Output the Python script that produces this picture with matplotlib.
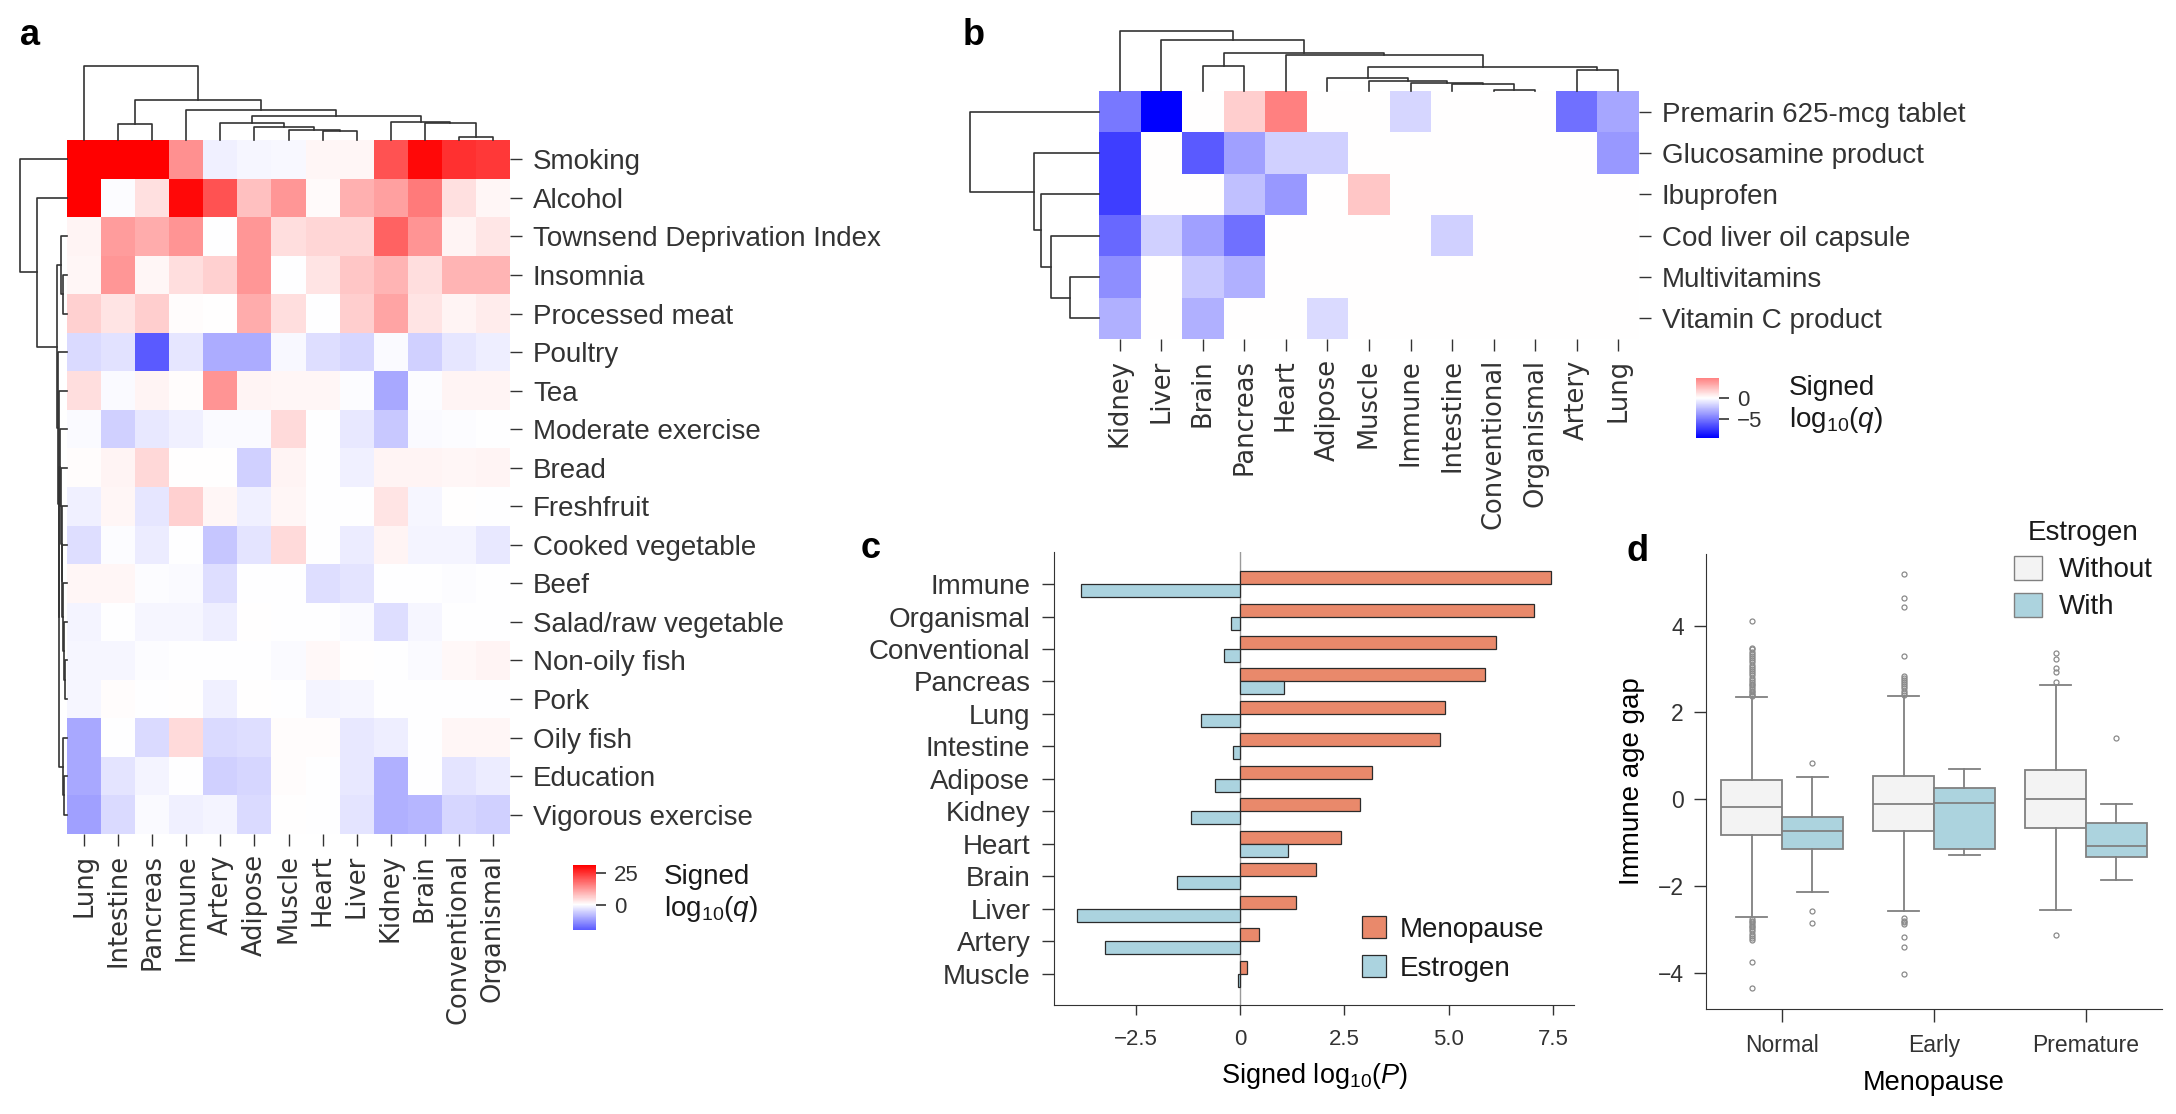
import matplotlib
matplotlib.use("Agg")
import matplotlib.pyplot as plt
import numpy as np
import seaborn as sns
from matplotlib.patches import Patch

W, H = 2176, 1114

# ---------------- panel a: lifestyle factors x organ clocks
a_cols = ["Lung", "Intestine", "Pancreas", "Immune", "Artery", "Adipose", "Muscle",
          "Heart", "Liver", "Kidney", "Brain", "Conventional", "Organismal"]
a_rows = ["Smoking", "Alcohol", "Townsend Deprivation Index", "Insomnia", "Processed meat",
          "Poultry", "Tea", "Moderate exercise", "Bread", "Freshfruit", "Cooked vegetable",
          "Beef", "Salad/raw vegetable", "Non-oily fish", "Pork", "Oily fish", "Education",
          "Vigorous exercise"]
a_vals = [
    [31, 31, 31, 13.4, -1.8, -1, -0.7, 1.2, 1.0, 21, 30, 25, 24],
    [31, -0.3, 3.9, 30, 21, 7.5, 12.5, 0.6, 9.5, 11.5, 16, 3.9, 1.0],
    [1.5, 12, 10, 13, 0, 12.5, 4, 5, 5, 19, 13, 1.5, 3],
    [1, 12.5, 1, 4, 5.7, 12.5, 0, 3.2, 7, 9, 4, 9, 9],
    [5.7, 3.2, 6, 0.5, 0.2, 10, 4, 0, 6, 11, 3.2, 1.5, 2.5],
    [-4.5, -3.5, -20, -3, -10, -10, -0.7, -4, -5, -0.5, -5.5, -3, -2],
    [4, -0.5, 1.5, 0.5, 13, 1.5, 1, 1.2, -0.3, -10.5, -0.3, 1.5, 1.5],
    [-0.5, -5.5, -2.8, -1.8, -0.5, -0.5, 4.5, -0.1, -2.8, -6.5, -0.5, -0.3, 0],
    [0.5, 1.5, 4.8, 0.3, 0.3, -5.5, 1.5, 0, -1.8, 1.5, 1.5, 1.2, 1.5],
    [-1.8, 1.2, -3, 5.7, 1.2, -1.8, 1.2, -0.1, -0.1, 3.2, -1, 0.3, -0.2],
    [-3.9, -0.3, -2.3, 0, -7, -3.2, 4.5, 0, -2.3, 1.5, -1.3, -1.3, -2.8],
    [1.2, 1.0, -0.3, -0.5, -3.9, 0, -0.1, -3.9, -3.2, 0, 0, -0.3, 0],
    [-1.3, -0.1, -1.0, -1.0, -2, 0.3, 0, 0, -0.5, -3.9, -1, 0, 0],
    [-1, -1, -0.3, 0, 0, 0, -0.5, 0.8, 0.3, 0, -0.5, 0.8, 1.5],
    [-1, 0.5, 0, 0.2, -1.8, 0.2, 0, -1.3, -1, 0, 0, 0, 0],
    [-10.5, -0.1, -4.3, 4.5, -4.5, -3.9, 0.5, 0.5, -2.8, -2, 0, 1.2, 1.2],
    [-10.5, -3.2, -1.3, 0, -5.5, -5, 0.5, 0, -2.8, -9.6, 0, -3.2, -2.3],
    [-11.6, -4.3, -0.5, -1.8, -1.3, -4.3, 0.2, 0.1, -3.2, -9.6, -8.7, -5, -5.8],
]
# dendrogram merges (left id, right id, height); new ids follow the leaves
a_col_links = [(1, 2, 47), (7, 8, 27), (6, 14, 30), (5, 15, 40), (4, 16, 52),
               (11, 12, 10), (10, 18, 52), (9, 19, 55), (17, 20, 72), (3, 21, 90),
               (13, 22, 120), (0, 23, 223)]
a_row_links = [(3, 4, 12), (2, 18, 17), (16, 17, 8), (15, 20, 12), (13, 14, 6),
               (12, 22, 9), (11, 23, 11), (10, 24, 13), (9, 25, 15), (8, 26, 17),
               (7, 27, 19), (28, 21, 21), (6, 29, 23), (5, 30, 25), (19, 31, 28),
               (1, 32, 83), (0, 33, 130)]

# ---------------- panel b: medications x organ clocks
b_cols = ["Kidney", "Liver", "Brain", "Pancreas", "Heart", "Adipose", "Muscle", "Immune",
          "Intestine", "Conventional", "Organismal", "Artery", "Lung"]
b_rows = ["Premarin 625-mcg tablet", "Glucosamine product", "Ibuprofen",
          "Cod liver oil capsule", "Multivitamins", "Vitamin C product"]
b_vals = [
    [-5.1, -9.7, 0, 1.8, 4.8, 0, 0, -1.6, 0, 0, 0, -5.4, -3.4],
    [-7.3, 0, -6.3, -3.6, -1.8, -1.8, 0, 0, 0, 0, 0, 0, -3.9],
    [-7.3, 0, 0, -2.4, -3.9, 0, 2.1, 0, 0, 0, 0, 0, 0],
    [-5.7, -1.8, -3.6, -5.4, 0, 0, 0, 0, -1.8, 0, 0, 0, 0],
    [-4.3, 0, -2.1, -3.0, 0, 0, 0, 0, 0, 0, 0, 0, 0],
    [-3.0, 0, -3.0, 0, 0, -1.4, 0, 0, 0, 0, 0, 0, 0],
]
b_col_links = [(9, 10, 2), (8, 13, 20), (7, 14, 25), (6, 15, 30), (5, 16, 37),
               (11, 12, 62), (17, 18, 70), (4, 19, 105), (2, 3, 75), (21, 20, 112),
               (1, 22, 150), (0, 23, 177)]
b_row_links = [(4, 5, 59), (3, 6, 99), (2, 7, 120), (1, 8, 134), (0, 9, 267)]

# ---------------- panel c
c_tissues = ["Immune", "Organismal", "Conventional", "Pancreas", "Lung", "Intestine",
             "Adipose", "Kidney", "Heart", "Brain", "Liver", "Artery", "Muscle"]
c_menopause = [7.45, 7.05, 6.13, 5.86, 4.91, 4.78, 3.16, 2.88, 2.41, 1.82, 1.33, 0.46, 0.16]
c_estrogen = [-3.81, -0.22, -0.39, 1.05, -0.93, -0.18, -0.61, -1.18, 1.15, -1.51, -3.90,
              -3.24, -0.06]

# ---------------- panel d
d_groups = ["Normal", "Early", "Premature"]
d_wo_q1 = [-0.82, -0.73, -0.66]
d_wo_med = [-0.19, -0.12, 0.0]
d_wo_q3 = [0.44, 0.53, 0.66]
d_wo_lo = [-2.73, -2.58, -2.55]
d_wo_hi = [2.35, 2.37, 2.64]
d_wo_out = [
    [2.37, 2.4, 2.43, 2.46, 2.5, 2.54, 2.58, 2.62, 2.66, 2.7, 2.75, 2.8, 2.85, 2.9, 2.95,
     3.0, 3.05, 3.1, 3.15, 3.2, 3.25, 3.3, 3.35, 3.4, 3.45, 3.48, 4.11,
     -2.76, -2.8, -2.84, -2.88, -2.92, -2.96, -3.0, -3.05, -3.1, -3.15, -3.2, -3.26,
     -3.76, -4.36],
    [2.4, 2.45, 2.5, 2.55, 2.6, 2.65, 2.7, 2.75, 2.8, 2.84, 3.29, 4.42, 4.64, 5.18,
     -2.74, -2.8, -2.84, -2.88, -3.17, -3.41, -4.04],
    [2.71, 2.93, 3.03, 3.22, 3.37, -3.13],
]
d_w_q1 = [-1.14, -1.16, -1.34]
d_w_med = [-0.73, -0.09, -1.09]
d_w_q3 = [-0.41, 0.26, -0.55]
d_w_lo = [-2.14, -1.30, -1.87]
d_w_hi = [0.50, 0.70, -0.12]
d_w_out = [[0.82, -2.58, -2.86], [], [1.40]]

plt.rcParams["font.family"] = ["Liberation Sans", "DejaVu Sans"]
plt.rcParams["mathtext.fontset"] = "custom"
plt.rcParams["mathtext.rm"] = "Liberation Sans"
plt.rcParams["mathtext.it"] = "Liberation Sans:italic"
plt.rcParams["axes.edgecolor"] = "#333333"
plt.rcParams["xtick.color"] = "#333333"
plt.rcParams["ytick.color"] = "#333333"
plt.rcParams["text.color"] = "#1a1a1a"

fig = plt.figure(figsize=(W / 100, H / 100), dpi=100)


def add_ax(x0, y0, x1, y1):
    return fig.add_axes([x0 / W, 1 - y1 / H, (x1 - x0) / W, (y1 - y0) / H])


def draw_tree(ax, links, n, side):
    pos = [i + 0.5 for i in range(n)]
    hgt = [0.0] * n
    for l, r, h in links:
        xs = [pos[l], pos[l], pos[r], pos[r]]
        ys = [hgt[l], h, h, hgt[r]]
        if side == "top":
            ax.plot(xs, ys, color="#333333", lw=1.2, clip_on=False)
        else:
            ax.plot(ys, xs, color="#333333", lw=1.2, clip_on=False)
        pos.append((pos[l] + pos[r]) / 2)
        hgt.append(h)
    top = max(h for _, _, h in links)
    if side == "top":
        ax.set_xlim(0, n)
        ax.set_ylim(0, top)
    else:
        ax.set_ylim(n, 0)
        ax.set_xlim(top, 0)
    ax.axis("off")


def heat(ax, cax, vals, rows, cols, ticks, lab_x, lab_y):
    sns.heatmap(np.array(vals), cmap="bwr", center=0, ax=ax, cbar_ax=cax,
                xticklabels=cols, yticklabels=rows)
    ax.yaxis.tick_right()
    ax.set_yticklabels(rows, rotation=0, fontsize=20)
    ax.set_xticklabels(cols, rotation=90, fontsize=18.5, family="DejaVu Sans")
    ax.tick_params(axis="both", length=8.5, width=1.0, color="#333333")
    ax.tick_params(axis="y", pad=8)
    ax.tick_params(axis="x", pad=6)
    cax.set_yticks(ticks)
    cax.tick_params(labelsize=16, length=7, width=1.2, pad=6)
    fig.text(lab_x / W, 1 - lab_y / H, "Signed", fontsize=20, va="center", ha="left")
    fig.text(lab_x / W, 1 - (lab_y + 32) / H, "log$_{10}$($q$)", fontsize=20,
             va="center", ha="left")


# panel a
ax_a = add_ax(67, 140, 510, 834)
heat(ax_a, add_ax(573, 865, 596, 930), a_vals, a_rows, a_cols, [0, 25], 664, 877)
draw_tree(add_ax(67, 66, 510, 140), a_col_links, len(a_cols), "top")
draw_tree(add_ax(20, 140, 67, 834), a_row_links, len(a_rows), "left")

# panel b
ax_b = add_ax(1099, 91, 1639, 339)
heat(ax_b, add_ax(1696, 378, 1719, 438), b_vals, b_rows, b_cols, [-5, 0], 1789, 388)
draw_tree(add_ax(1099, 31, 1639, 91), b_col_links, len(b_cols), "top")
draw_tree(add_ax(970, 91, 1099, 339), b_row_links, len(b_rows), "left")

# panel c
ax_c = add_ax(1054, 552, 1574, 1005)
yc = np.arange(len(c_tissues))
ax_c.axvline(0, color="#9a9a9a", lw=1.0, zorder=1)
ax_c.barh(yc - 0.2, c_menopause, height=0.4, color="#e9896b", edgecolor="#2b2b2b",
          lw=0.9, label="Menopause", zorder=2)
ax_c.barh(yc + 0.2, c_estrogen, height=0.4, color="#abd3df", edgecolor="#2b2b2b",
          lw=0.9, label="Estrogen", zorder=2)
ax_c.set_yticks(yc, c_tissues, fontsize=20)
ax_c.set_ylim(12.97, -0.99)
ax_c.set_xlim(-4.46, 8.0)
ax_c.set_xticks([-2.5, 0, 2.5, 5, 7.5], ["−2.5", "0", "2.5", "5.0", "7.5"], fontsize=16)
ax_c.tick_params(axis="y", length=9, width=1.0, pad=8)
ax_c.tick_params(axis="x", length=7, width=1.0, pad=10)
ax_c.set_xlabel("Signed log$_{10}$($P$)", fontsize=19.5, labelpad=8)
for s in ("top", "right"):
    ax_c.spines[s].set_visible(False)
ax_c.legend(loc="upper left", bbox_to_anchor=(1362 / W, 1 - 916 / H),
            bbox_transform=fig.transFigure, frameon=False, fontsize=20,
            handlelength=0.85, handleheight=0.85, handletextpad=0.5,
            labelspacing=0.45, borderpad=0, borderaxespad=0)

# panel d
ax_d = add_ax(1706, 554, 2162, 1009)
col_wo, col_w, line_c = "#f3f3f3", "#acd3de", "#808080"
for q1, med, q3, lo, hi, out, shift, fc in [
        (d_wo_q1, d_wo_med, d_wo_q3, d_wo_lo, d_wo_hi, d_wo_out, -0.2, col_wo),
        (d_w_q1, d_w_med, d_w_q3, d_w_lo, d_w_hi, d_w_out, 0.2, col_w)]:
    stats = [dict(q1=q1[i], med=med[i], q3=q3[i], whislo=lo[i], whishi=hi[i],
                  fliers=out[i]) for i in range(len(d_groups))]
    ax_d.bxp(stats, positions=np.arange(len(d_groups)) + shift, widths=0.4,
             patch_artist=True, manage_ticks=False, capwidths=0.2,
             boxprops=dict(facecolor=fc, edgecolor=line_c, lw=1.3),
             medianprops=dict(color=line_c, lw=1.3),
             whiskerprops=dict(color=line_c, lw=1.3),
             capprops=dict(color=line_c, lw=1.3),
             flierprops=dict(marker="o", markerfacecolor="none", markeredgecolor="#8a8a8a",
                             markersize=3.6, markeredgewidth=0.9))
ax_d.set_xlim(-0.5, 2.5)
ax_d.set_ylim(-4.84, 5.65)
ax_d.set_yticks([-4, -2, 0, 2, 4])
ax_d.set_xticks(range(len(d_groups)), d_groups)
ax_d.tick_params(axis="both", labelsize=16.5, length=9, width=1.0)
ax_d.tick_params(axis="y", pad=7)
ax_d.tick_params(axis="x", pad=9)
ax_d.set_xlabel("Menopause", fontsize=19.5, labelpad=9)
ax_d.set_ylabel("Immune age gap", fontsize=20, labelpad=9)
for s in ("top", "right"):
    ax_d.spines[s].set_visible(False)
handles = [Patch(facecolor=col_wo, edgecolor=line_c, label="Without"),
           Patch(facecolor=col_w, edgecolor=line_c, label="With")]
ax_d.legend(handles=handles, title="Estrogen", loc="upper left",
            bbox_to_anchor=(2014 / W, 1 - 520 / H), bbox_transform=fig.transFigure,
            frameon=False, fontsize=20, title_fontsize=20, handlelength=1.0,
            handleheight=0.95, handletextpad=0.6, labelspacing=0.35, borderpad=0,
            borderaxespad=0)

# panel letters
for letter, x, y in [("a", 20, 45), ("b", 963, 45), ("c", 861, 558), ("d", 1626, 561)]:
    fig.text(x / W, 1 - y / H, letter, fontsize=26, fontweight="bold", va="baseline",
             ha="left", color="black")

fig.savefig("out.png", dpi=100)
